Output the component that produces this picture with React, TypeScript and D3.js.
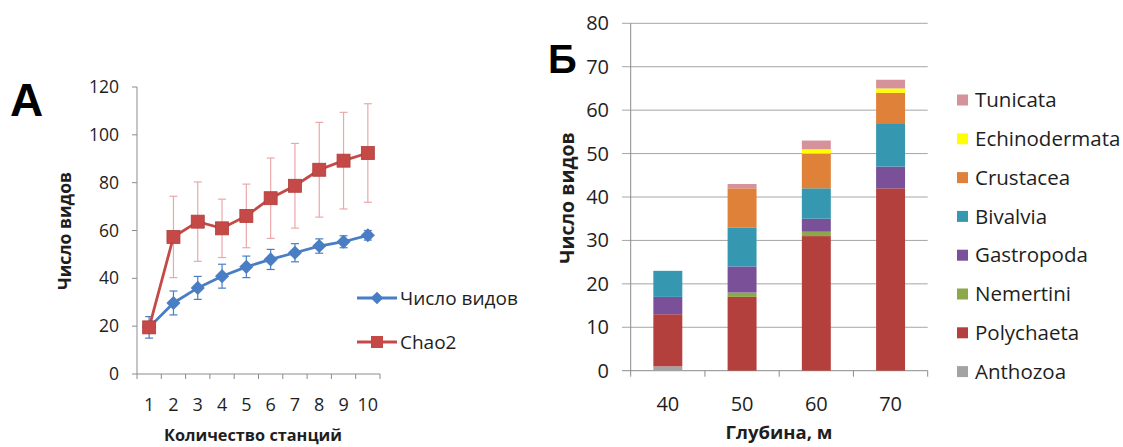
import React from 'react'
import * as d3 from 'd3'

// chart A: accumulation curves
const stations = [1, 2, 3, 4, 5, 6, 7, 8, 9, 10]
const observed = [19.5, 29.7, 36, 40.9, 44.8, 47.9, 50.7, 53.5, 55.3, 58]
const observedErr = [4.5, 5, 4.8, 5, 4.5, 4.2, 3.8, 3, 2.5, 2]
const chao2 = [19.5, 57.3, 63.7, 60.9, 66.1, 73.5, 78.7, 85.4, 89.2, 92.4]
const chao2Err = [0, 17, 16.6, 12.2, 13.3, 16.8, 17.7, 19.8, 20.2, 20.6]
const ticksA = [0, 20, 40, 60, 80, 100, 120]

// chart B: species by depth
const depths = ['40', '50', '60', '70']
const taxa = ['Anthozoa', 'Polychaeta', 'Nemertini', 'Gastropoda', 'Bivalvia', 'Crustacea', 'Echinodermata', 'Tunicata']
const anthozoa = [1, 0, 0, 0]
const polychaeta = [12, 17, 31, 42]
const nemertini = [0, 1, 1, 0]
const gastropoda = [4, 6, 3, 5]
const bivalvia = [6, 9, 7, 10]
const crustacea = [0, 9, 8, 7]
const echinodermata = [0, 0, 1, 1]
const tunicata = [0, 1, 2, 2]
const ticksB = [0, 10, 20, 30, 40, 50, 60, 70, 80]
const taxaColors = ['#a3a3a3', '#b3403d', '#8ca84a', '#7a5199', '#3598b0', '#e0813a', '#ffff00', '#d6929a']

const font = "'Open Sans', 'Noto Sans', sans-serif"
const axisGray = '#8c8c8c'
const ink = '#1e1e1e'

function ChartA() {
  const x = d3.scaleBand<number>().domain(stations).range([137, 380])
  const y = d3.scaleLinear().domain([0, 120]).range([374, 87])
  const cx = (d: number) => (x(d) as number) + x.bandwidth() / 2
  const line = d3.line<number>().x((d, i) => cx(stations[i])).y(d => y(d))
  const blue = '#4a7ec4'
  const red = '#c54a47'
  const bounds = [...stations.map(s => x(s) as number), 380]

  return (
    <g fontFamily={font}>
      <text x={10} y={116} fontSize={46} fontWeight="bold" fontFamily="'Liberation Sans', Arial">А</text>
      {/* axes */}
      <line x1={137} x2={137} y1={y(120)} y2={y(0)} stroke={axisGray} />
      <line x1={137} x2={380} y1={y(0)} y2={y(0)} stroke={axisGray} />
      {ticksA.map(t => (
        <g key={t}>
          <line x1={132} x2={137} y1={y(t)} y2={y(t)} stroke={axisGray} />
          <text x={119} y={y(t)} dy="0.35em" textAnchor="end" fontSize={17.5} fill={ink}>{t}</text>
        </g>
      ))}
      {bounds.map((b, i) => (
        <line key={i} x1={b} x2={b} y1={y(0)} y2={y(0) + 5} stroke={axisGray} />
      ))}
      {stations.map(s => (
        <text key={s} x={cx(s)} y={411} textAnchor="middle" fontSize={18} fill={ink}>{s}</text>
      ))}
      <text x={253} y={441} textAnchor="middle" fontSize={16.3} fontWeight="bold" fill={ink}>Количество станций</text>
      <text transform="translate(71,231) rotate(-90)" textAnchor="middle" fontSize={17.5} fontWeight="bold" fill={ink}>Число видов</text>

      {/* error bars */}
      {chao2.map((v, i) => chao2Err[i] > 0 && (
        <g key={'re' + i} stroke="#eaa9a9" strokeWidth={1.2}>
          <line x1={cx(stations[i])} x2={cx(stations[i])} y1={y(v + chao2Err[i])} y2={y(v - chao2Err[i])} />
          <line x1={cx(stations[i]) - 4} x2={cx(stations[i]) + 4} y1={y(v + chao2Err[i])} y2={y(v + chao2Err[i])} />
          <line x1={cx(stations[i]) - 4} x2={cx(stations[i]) + 4} y1={y(v - chao2Err[i])} y2={y(v - chao2Err[i])} />
        </g>
      ))}
      {observed.map((v, i) => (
        <g key={'be' + i} stroke={blue} strokeWidth={1.2}>
          <line x1={cx(stations[i])} x2={cx(stations[i])} y1={y(v + observedErr[i])} y2={y(v - observedErr[i])} />
          <line x1={cx(stations[i]) - 4} x2={cx(stations[i]) + 4} y1={y(v + observedErr[i])} y2={y(v + observedErr[i])} />
          <line x1={cx(stations[i]) - 4} x2={cx(stations[i]) + 4} y1={y(v - observedErr[i])} y2={y(v - observedErr[i])} />
        </g>
      ))}

      {/* lines */}
      <path d={line(observed) as string} fill="none" stroke={blue} strokeWidth={2.8} />
      <path d={line(chao2) as string} fill="none" stroke={red} strokeWidth={2.8} />
      {observed.map((v, i) => (
        <rect key={'bm' + i} x={-5} y={-5} width={10} height={10} fill={blue}
          transform={`translate(${cx(stations[i])},${y(v)}) rotate(45)`} />
      ))}
      {chao2.map((v, i) => (
        <rect key={'rm' + i} x={cx(stations[i]) - 6.5} y={y(v) - 6.5} width={13} height={13} fill={red} stroke="#b03c3a" strokeWidth={0.8} />
      ))}

      {/* legend */}
      <line x1={357} x2={397} y1={298} y2={298} stroke={blue} strokeWidth={2.8} />
      <rect x={-4.5} y={-4.5} width={9} height={9} fill={blue} transform="translate(377,298) rotate(45)" />
      <text x={400} y={298} dy="0.35em" fontSize={19} fill={ink}>Число видов</text>
      <line x1={357} x2={397} y1={342} y2={342} stroke={red} strokeWidth={2.8} />
      <rect x={371} y={336} width={12} height={12} fill={red} />
      <text x={400} y={342} dy="0.35em" fontSize={19} fill={ink}>Chao2</text>
    </g>
  )
}

function ChartB() {
  const x = d3.scaleBand<string>().domain(depths).range([630.7, 927.7]).paddingInner(0.61).paddingOuter(0.305)
  const y = d3.scaleLinear().domain([0, 80]).range([370.7, 23.3])
  const rows = depths.map((d, i) => ({
    depth: d,
    Anthozoa: anthozoa[i], Polychaeta: polychaeta[i], Nemertini: nemertini[i], Gastropoda: gastropoda[i],
    Bivalvia: bivalvia[i], Crustacea: crustacea[i], Echinodermata: echinodermata[i], Tunicata: tunicata[i],
  }))
  const stack = d3.stack<any>().keys(taxa)(rows)
  const step = x.step()
  const bounds = [0, 1, 2, 3, 4].map(i => 630.7 + i * step)

  return (
    <g fontFamily={font}>
      <text x={548} y={73} fontSize={40} fontWeight="bold" fontFamily="'Liberation Sans', Arial">Б</text>
      {ticksB.map(t => (
        <g key={t}>
          <line x1={622} x2={927.7} y1={y(t)} y2={y(t)} stroke={t === 0 ? axisGray : '#a6a6a6'} />
          <text x={609} y={y(t)} dy="0.35em" textAnchor="end" fontSize={20} fill={ink}>{t}</text>
        </g>
      ))}
      <line x1={630.7} x2={630.7} y1={y(80)} y2={y(0)} stroke={axisGray} />
      {bounds.map((b, i) => (
        <line key={i} x1={b} x2={b} y1={y(0)} y2={y(0) + 6} stroke={axisGray} />
      ))}
      {stack.map((s, k) => (
        <g key={taxa[k]} fill={taxaColors[k]}>
          {s.map((d, i) => d[1] > d[0] && (
            <rect key={i} x={x(depths[i])} width={x.bandwidth()} y={y(d[1])} height={y(d[0]) - y(d[1])} />
          ))}
        </g>
      ))}
      {depths.map(d => (
        <text key={d} x={(x(d) as number) + x.bandwidth() / 2} y={411} textAnchor="middle" fontSize={20} fill={ink}>{d}</text>
      ))}
      <text x={779} y={439} textAnchor="middle" fontSize={18.5} fontWeight="bold" fill={ink}>Глубина, м</text>
      <text transform="translate(574,198) rotate(-90)" textAnchor="middle" fontSize={19.5} fontWeight="bold" fill={ink}>Число видов</text>

      {taxa.slice().reverse().map((t, i) => (
        <g key={t} transform={`translate(957,${100 + i * 38.8})`}>
          <rect x={0} y={-5.5} width={11} height={11} fill={taxaColors[taxa.length - 1 - i]} />
          <text x={18} y={0} dy="0.35em" fontSize={20.5} fill={ink}>{t}</text>
        </g>
      ))}
    </g>
  )
}

export default function App() {
  return (
    <div style={{ position: 'absolute', left: 0, top: 0 }}>
      <svg width={1123} height={447} style={{ display: 'block', background: '#fff' }}>
        <ChartA />
        <ChartB />
      </svg>
    </div>
  )
}
